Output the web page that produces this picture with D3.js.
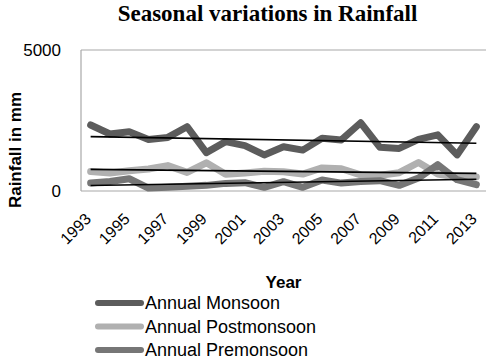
<!DOCTYPE html>
<html><head><meta charset="utf-8">
<script src="https://cdn.jsdelivr.net/npm/d3@7"></script>
<style>body{margin:0;background:#fff}svg{display:block}</style>
</head><body>
<svg id="c" width="500" height="359"></svg>
<script>
const years = [1993,1994,1995,1996,1997,1998,1999,2000,2001,2002,2003,2004,2005,2006,2007,2008,2009,2010,2011,2012,2013];
const tickLabels = ["1993","1995","1997","1999","2001","2003","2005","2007","2009","2011","2013"];
const monsoon = [2340,2020,2100,1830,1900,2280,1360,1750,1610,1280,1570,1450,1870,1810,2420,1550,1510,1830,1990,1280,2280];
const postmonsoon = [690,640,720,780,900,660,1000,590,640,700,680,600,820,790,570,560,650,1010,600,490,500];
const premonsoon = [285,340,435,105,130,165,200,270,295,130,330,130,390,280,340,365,200,460,935,400,225];
const seriesNames = ["Annual Monsoon","Annual Postmonsoon","Annual Premonsoon"];
const yTicks = [0,5000];

const svg = d3.select("#c");
const L = 81, R = 486, T = 50, B = 191;
const x = d3.scaleBand().domain(years).range([L, R]);
const y = d3.scaleLinear().domain([0, 5000]).range([B, T]);
const cx = d => x(d) + x.bandwidth()/2;

const series = [
  {name: seriesNames[0], values: monsoon, color: "#5c5c5c"},
  {name: seriesNames[1], values: postmonsoon, color: "#b0b0b0"},
  {name: seriesNames[2], values: premonsoon, color: "#767676"}
];

// grid / axes lines
svg.append("g").selectAll("line").data([5000]).join("line")
  .attr("x1", L).attr("x2", R).attr("y1", d=>y(d)).attr("y2", d=>y(d))
  .attr("stroke", "#a8a8a8").attr("stroke-width", 1.2);
svg.append("line").attr("x1", L).attr("x2", R).attr("y1", B).attr("y2", B)
  .attr("stroke", "#a8a8a8").attr("stroke-width", 1.2);
svg.append("line").attr("x1", L).attr("x2", L).attr("y1", T).attr("y2", B)
  .attr("stroke", "#a8a8a8").attr("stroke-width", 1.2);

// y tick labels
svg.append("g").selectAll("text").data(yTicks).join("text")
  .attr("x", 61).attr("y", d => y(d)).attr("dy", "0.36em")
  .attr("text-anchor", "end")
  .style("font", "17px 'Liberation Sans', Arial, sans-serif").attr("fill", "#000")
  .text(d => d);

// lines
const line = d3.line().x((d,i) => cx(years[i])).y(d => y(d));
svg.append("g").selectAll("path").data(series).join("path")
  .attr("d", d => line(d.values))
  .attr("fill", "none").attr("stroke", d => d.color)
  .attr("stroke-width", 7).attr("stroke-linejoin", "round").attr("stroke-linecap", "round");

// linear trend lines
function trend(vals){
  const n = vals.length, xs = d3.range(n);
  const mx = d3.mean(xs), my = d3.mean(vals);
  let num = 0, den = 0;
  xs.forEach((xi,i)=>{ num += (xi-mx)*(vals[i]-my); den += (xi-mx)*(xi-mx); });
  const b = num/den, a = my - b*mx;
  return [a, a + b*(n-1)];
}
svg.append("g").selectAll("line").data(series).join("line")
  .attr("x1", cx(years[0])).attr("x2", cx(years[years.length-1]))
  .attr("y1", d => y(trend(d.values)[0])).attr("y2", d => y(trend(d.values)[1]))
  .attr("stroke", "#000").attr("stroke-width", 1.6);

// x tick labels
svg.append("g").selectAll("text").data(tickLabels).join("text")
  .attr("transform", d => `translate(${cx(+d)+1.5},220) rotate(-45)`)
  .attr("text-anchor", "end")
  .style("font", "16px 'Liberation Sans', Arial, sans-serif").attr("fill", "#000")
  .text(d => d);

// titles
svg.append("text").attr("x", 267.5).attr("y", 21).attr("text-anchor", "middle")
  .style("font", "bold 23px 'Liberation Serif', 'Times New Roman', serif").text("Seasonal variations in Rainfall");
svg.append("text").attr("transform", "translate(21,150) rotate(-90)").attr("text-anchor", "middle")
  .style("font", "bold 17px 'Liberation Sans', Arial, sans-serif").text("Rainfall in mm");
svg.append("text").attr("x", 283.5).attr("y", 288).attr("text-anchor", "middle")
  .style("font", "bold 17px 'Liberation Sans', Arial, sans-serif").text("Year");

// legend
const lg = svg.append("g").selectAll("g").data(series).join("g")
  .attr("transform", (d,i) => `translate(0,${[303,326.5,350][i]})`);
lg.append("line").attr("x1", 98).attr("x2", 141).attr("y1", 0).attr("y2", 0)
  .attr("stroke", d => d.color).attr("stroke-width", 6).attr("stroke-linecap", "round");
lg.append("text").attr("x", 145).attr("y", 6)
  .style("font", "18px 'Liberation Sans', Arial, sans-serif").text(d => d.name);
</script>
</body></html>
